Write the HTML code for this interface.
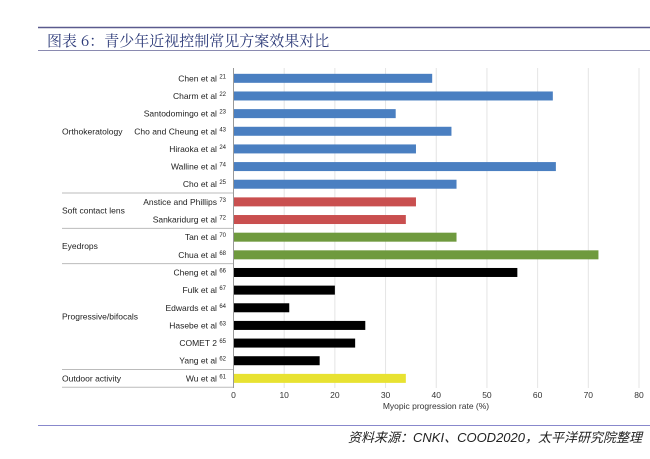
<!DOCTYPE html>
<html><head><meta charset="utf-8"><style>
body{margin:0;background:#fff;}
svg{display:block;font-family:"Liberation Sans",Arial,sans-serif;}
</style></head><body>
<svg width="650" height="459" viewBox="0 0 650 459">
<line x1="38" y1="27.5" x2="650" y2="27.5" stroke="#5a5a8e" stroke-width="1.5"/>
<text x="47" y="46" font-size="15" fill="#2c3a78" font-family="'Noto Serif CJK SC','Liberation Serif',serif">图表 6：青少年近视控制常见方案效果对比</text>
<line x1="38" y1="50.5" x2="650" y2="50.5" stroke="#8a8ab0" stroke-width="1"/>
<g id="grid"></g>
<g id="bars"></g>
<g id="labels"></g>
<g id="groups"></g>
<g id="xticks"></g>
<line x1="233.5" y1="68" x2="233.5" y2="388" stroke="#999" stroke-width="1"/>
<text x="436" y="409" font-size="8.5" fill="#333" text-anchor="middle">Myopic progression rate (%)</text>
<line x1="38" y1="425.5" x2="650" y2="425.5" stroke="#8888cc" stroke-width="1"/>
<text x="642" y="442" font-size="13" fill="#222" text-anchor="end" font-style="italic" font-family="'Liberation Sans','Noto Sans CJK SC',sans-serif">资料来源：CNKI、COOD2020，太平洋研究院整理</text>
</svg>
<script>
const categories=["Chen et al","Charm et al","Santodomingo et al","Cho and Cheung et al","Hiraoka et al","Walline et al","Cho et al","Anstice and Phillips","Sankaridurg et al","Tan et al","Chua et al","Cheng et al","Fulk et al","Edwards et al","Hasebe et al","COMET 2","Yang et al","Wu et al"];
const refs=["21","22","23","43","24","74","25","73","72","70","68","66","67","64","63","65","62","61"];
const values=[39.2,63,32,43,36,63.6,44,36,34,44,72,56,20,11,26,24,17,34];
const groupOf=[0,0,0,0,0,0,0,1,1,2,2,3,3,3,3,3,3,4];
const groupNames=["Orthokeratology","Soft contact lens","Eyedrops","Progressive/bifocals","Outdoor activity"];
const groupColors=["#4a7fc1","#c94f4f","#6f9a3e","#000000","#e8e231"];
const ticks=[0,10,20,30,40,50,60,70,80];
const NS="http://www.w3.org/2000/svg";
const x0=233.5,xmax=639,vmax=80;
const xs=v=>x0+(xmax-x0)*v/vmax;
const yTop=69.5,step=17.65;
const yc=i=>yTop+step*(i+0.5);
function mk(tag,attrs,parent,txt){const e=document.createElementNS(NS,tag);for(const k in attrs)e.setAttribute(k,attrs[k]);if(txt!==undefined)e.textContent=txt;document.getElementById(parent).appendChild(e);return e;}
ticks.forEach(t=>{
 if(t>0){const g=mk('line',{x1:xs(t),x2:xs(t),y1:68,y2:388,stroke:'#e4e4e4','stroke-width':1},'grid');
 
 }
 const tl=mk('text',{x:xs(t),y:398,'font-size':8.5,fill:'#333','text-anchor':'middle'},'xticks',String(t));
 
 
});
categories.forEach((c,i)=>{
 const b=mk('rect',{x:x0,y:yc(i)-4.5,width:xs(values[i])-x0,height:9,fill:groupColors[groupOf[i]]},'bars');
 
 
 const t=mk('text',{x:226,y:yc(i)+3,'font-size':8.5,fill:'#222','text-anchor':'end'},'labels');
 
 
 t.appendChild(document.createTextNode(c+' '));
 const s=document.createElementNS(NS,'tspan');s.setAttribute('font-size','6');s.setAttribute('dy','-3');s.textContent=refs[i];t.appendChild(s);
});
groupNames.forEach((g,gi)=>{
 const idx=groupOf.map((v,i)=>v===gi?i:-1).filter(i=>i>=0);
 const first=idx[0],last=idx[idx.length-1];
 const t=mk('text',{x:62,y:(yc(first)+yc(last))/2+3,'font-size':8.5,fill:'#222'},'groups',g);
 
 
 const yb=yTop+step*(last+1);
 const l=mk('line',{x1:62,x2:233,y1:yb,y2:yb,stroke:'#bbb','stroke-width':1},'groups');
 
 
});
</script>
</body></html>
